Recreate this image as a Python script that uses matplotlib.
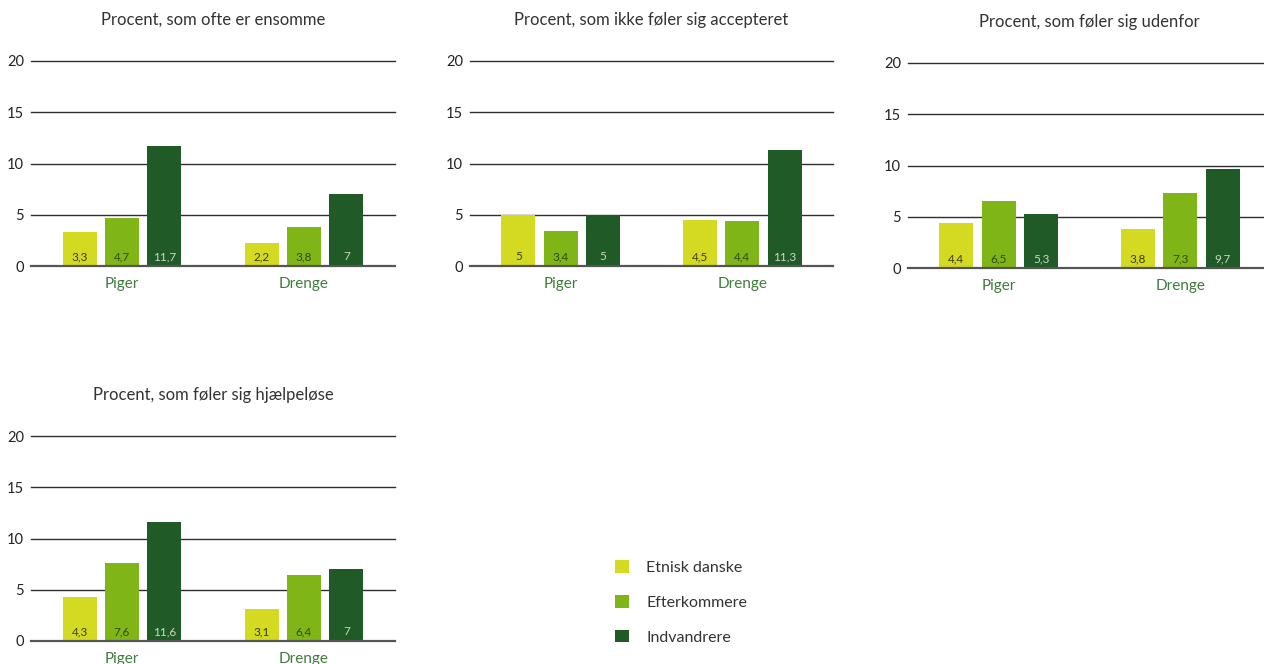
import matplotlib
matplotlib.use("Agg")
import matplotlib.pyplot as plt
from matplotlib.patches import Patch

plt.rcParams['font.family'] = ['Lato', 'DejaVu Sans']

grupper = ["Piger", "Drenge"]
serier = ["Etnisk danske", "Efterkommere", "Indvandrere"]
farver = ["#d4d922", "#7fb517", "#1f5a27"]
tekstfarver = ["#3b3d12", "#2f4a0e", "#c9d9c4"]

titler = [
    "Procent, som ofte er ensomme",
    "Procent, som ikke føler sig accepteret",
    "Procent, som føler sig udenfor",
    "Procent, som føler sig hjælpeløse",
]

# værdier: [etnisk danske, efterkommere, indvandrere] for [piger, drenge]
ensomme_etnisk = [3.3, 2.2]
ensomme_efter = [4.7, 3.8]
ensomme_indv = [11.7, 7]

accept_etnisk = [5, 4.5]
accept_efter = [3.4, 4.4]
accept_indv = [5, 11.3]

udenfor_etnisk = [4.4, 3.8]
udenfor_efter = [6.5, 7.3]
udenfor_indv = [5.3, 9.7]

hjaelp_etnisk = [4.3, 3.1]
hjaelp_efter = [7.6, 6.4]
hjaelp_indv = [11.6, 7]

data = [
    [ensomme_etnisk, ensomme_efter, ensomme_indv],
    [accept_etnisk, accept_efter, accept_indv],
    [udenfor_etnisk, udenfor_efter, udenfor_indv],
    [hjaelp_etnisk, hjaelp_efter, hjaelp_indv],
]

W, H = 1264, 664
fig = plt.figure(figsize=(W / 100, H / 100), dpi=100)

# (venstre px, nul-linje px, bredde px)
placering = [(31, 266, 364), (470, 266, 363), (908, 268, 363), (31, 641, 364)]
hoejde = 205

bredde = 0.187
afstand = 0.233


def fmt(v):
    s = ("%g" % v).replace(".", ",")
    return s


for i in range(4):
    x0, y0, w = placering[i]
    ax = fig.add_axes([x0 / W, (H - y0) / H, w / W, hoejde / H])
    for j in range(3):
        xs = [g + (j - 1) * afstand for g in range(2)]
        ax.bar(xs, data[i][j], width=bredde, color=farver[j], zorder=3)
        for x, v in zip(xs, data[i][j]):
            ax.text(x, 0.35, fmt(v), ha="center", va="bottom", fontsize=8.5,
                    color=tekstfarver[j], zorder=4)
    ax.set_xlim(-0.5, 1.5)
    ax.set_ylim(0, 20)
    ax.set_yticks([0, 5, 10, 15, 20])
    ax.set_xticks([0, 1])
    ax.set_xticklabels(grupper)
    for y in [5, 10, 15, 20]:
        ax.axhline(y, color="#2e2e2e", lw=1.0, zorder=1, clip_on=False)
    ax.axhline(0, color="#555555", lw=1.6, zorder=5, clip_on=False)
    for s in ax.spines.values():
        s.set_visible(False)
    ax.tick_params(axis="y", length=0, pad=5, labelsize=10.5, labelcolor="#222222")
    ax.tick_params(axis="x", length=0, pad=8, labelsize=11, labelcolor="#3f7d3c")
    ax.text(0.5, 1.2, titler[i], transform=ax.transAxes, ha="center",
            va="center", fontsize=12, color="#333333")

handles = [Patch(facecolor=f, edgecolor="none") for f in farver]
fig.legend(handles, serier, loc="upper left", bbox_to_anchor=(615 / W, 1 - 560 / H),
           frameon=False, fontsize=11.5, handlelength=0.85, handleheight=0.85,
           handletextpad=1.1, labelspacing=1.25, borderpad=0, borderaxespad=0,
           labelcolor="#333333")

fig.savefig("out.png", dpi=100)
